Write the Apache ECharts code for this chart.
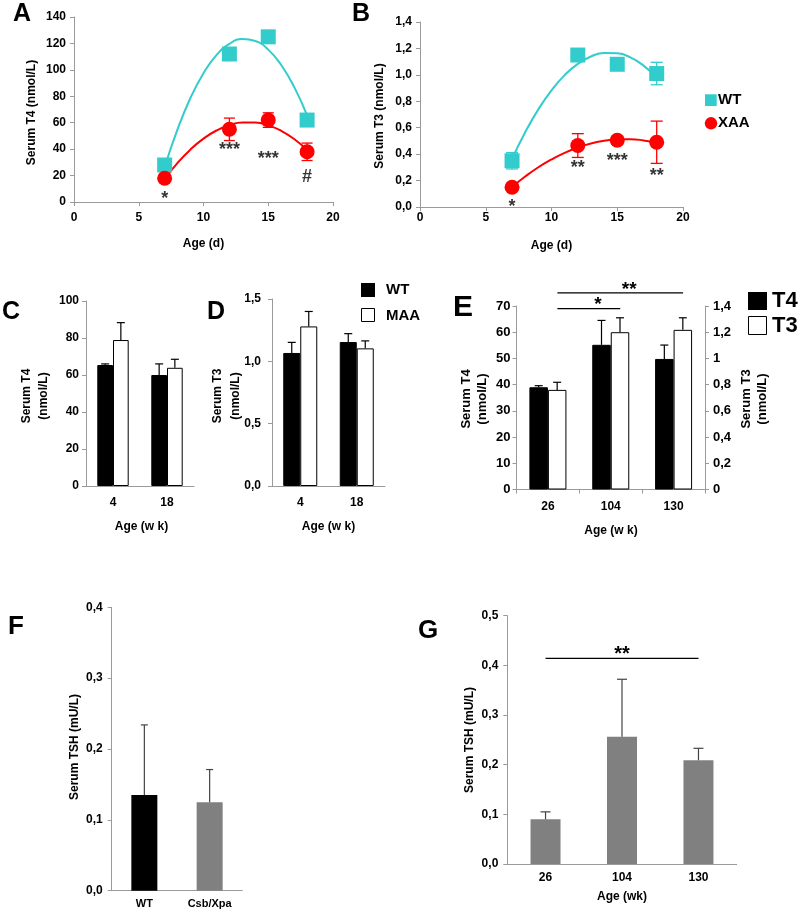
<!DOCTYPE html>
<html><head><meta charset="utf-8">
<script src="https://cdn.jsdelivr.net/npm/echarts@6/dist/echarts.min.js"></script>
<style>html,body{margin:0;padding:0;background:#fff}#c{width:800px;height:913px}</style>
</head><body><div id="c"></div>
<script>
// ---------- data ----------
// Panel A: serum T4 vs age (days)
const ageDays = [7, 12, 15, 18];
const t4WT = [28, 112, 125, 62];
const t4WTErr = [3, 4, 4, 3];
const t4XAA = [18, 55, 62, 38];
const t4XAAErr = [3, 8.5, 5.5, 6.6];
const trendAge = [7, 8, 9, 10, 11, 12, 13, 14, 15, 16, 17, 18];
const t4WTTrend = [26.4, 55.1, 78.9, 97.5, 111.2, 119.7, 123.3, 121.8, 115.3, 103.7, 87.1, 65.5];
const t4XAATrend = [17.4, 29.6, 39.8, 48.0, 54.1, 58.2, 60.2, 60.1, 58.0, 53.9, 47.7, 39.4];
const sigAAge = [7, 12, 15, 18];
const sigAY = [2.5, 39, 32.4, 18.9];
const sigAText = ['*', '***', '***', '#'];
const ticksA = ['0', '20', '40', '60', '80', '100', '120', '140'];
const ticksAgeD = ['0', '5', '10', '15', '20'];

// Panel B: serum T3 vs age (days)
const t3WT = [0.35, 1.15, 1.08, 1.01];
const t3WTErr = [0.062, 0.03, 0.03, 0.085];
const t3XAA = [0.15, 0.465, 0.505, 0.49];
const t3XAAErr = [0.02, 0.09, 0.03, 0.16];
const t3WTTrend = [0.364, 0.566, 0.739, 0.883, 0.998, 1.083, 1.139, 1.166, 1.163, 1.132, 1.070, 0.980];
const t3XAATrend = [0.152, 0.231, 0.301, 0.360, 0.410, 0.450, 0.481, 0.501, 0.512, 0.513, 0.504, 0.486];
const sigBAge = [7, 12, 15, 18];
const sigBY = [0.0, 0.297, 0.35, 0.237];
const sigBText = ['*', '**', '***', '**'];
const ticksB = ['0,0', '0,2', '0,4', '0,6', '0,8', '1,0', '1,2', '1,4'];

// Panel C / D: young animals (weeks)
const ageWeeksCD = ['4', '18'];
const t4CWT = [65.4, 60];
const t4CWTErr = [0.6, 6];
const t4CMAA = [78.9, 63.9];
const t4CMAAErr = [9.4, 4.6];
const ticksC = ['0', '20', '40', '60', '80', '100'];
const t3DWT = [1.067, 1.155];
const t3DWTErr = [0.085, 0.067];
const t3DMAA = [1.28, 1.104];
const t3DMAAErr = [0.12, 0.06];
const ticksD = ['0,0', '0,5', '1,0', '1,5'];

// Panel E: aging WT (weeks)
const ageWeeksE = ['26', '104', '130'];
const t4E = [39, 55.2, 49.8];
const t4EErr = [0.6, 9.3, 5.3];
const t3E = [0.76, 1.2, 1.218];
const t3EErr = [0.058, 0.11, 0.092];
const sigEFrom = [0, 0];
const sigETo = [1, 2];
const sigEY = [69, 75];
const sigEText = ['*', '**'];
const ticksELeft = ['0', '10', '20', '30', '40', '50', '60', '70'];
const ticksERight = ['0', '0,2', '0,4', '0,6', '0,8', '1', '1,2', '1,4'];

// Panel F: TSH by genotype
const genotypesF = ['WT', 'Csb/Xpa'];
const tshF = [0.135, 0.125];
const tshFErr = [0.099, 0.046];
const ticksF = ['0,0', '0,1', '0,2', '0,3', '0,4'];

// Panel G: TSH by age
const ageWeeksG = ['26', '104', '130'];
const tshG = [0.09, 0.256, 0.209];
const tshGErr = [0.015, 0.116, 0.024];
const sigGFrom = [0];
const sigGTo = [2];
const sigGY = [0.414];
const sigGText = ['**'];
const ticksG = ['0,0', '0,1', '0,2', '0,3', '0,4', '0,5'];

// ---------- styling ----------
const FONT = '"Liberation Sans", Arial, sans-serif';
const AX = '#9a9a9a';
const TEAL = '#33CCCC';
const RED = '#FF0000';
const GRAY = '#808080';

function lbl(size, margin, fmt) {
  return { color: '#000', fontWeight: 'bold', fontSize: size, fontFamily: FONT, margin: margin, formatter: fmt };
}
function valAxis(gi, min, max, interval, ticks, size, margin, extra) {
  return Object.assign({
    type: 'value', gridIndex: gi, min: min, max: max, interval: interval,
    axisLine: { show: true, lineStyle: { color: AX } },
    axisTick: { show: true, length: 4, lineStyle: { color: AX } },
    splitLine: { show: false },
    axisLabel: lbl(size, margin, function (v) { return ticks[Math.round((v - min) / interval)]; })
  }, extra || {});
}
function catAxis(gi, data, size, margin, showTick) {
  return {
    type: 'category', gridIndex: gi, data: data,
    axisLine: { show: true, lineStyle: { color: AX } },
    axisTick: { show: !!showTick, length: 4, lineStyle: { color: AX } },
    splitLine: { show: false },
    axisLabel: lbl(size, margin)
  };
}

function barErrRender(dx, color, cap) {
  return function (params, api) {
    const c = api.value(0), v = api.value(1), e = api.value(2);
    const p0 = api.coord([c, v]), p1 = api.coord([c, v + e]);
    const x = p0[0] + dx;
    return { type: 'group', children: [
      { type: 'line', shape: { x1: x, y1: p0[1], x2: x, y2: p1[1] }, style: { stroke: color, lineWidth: 1.2 } },
      { type: 'line', shape: { x1: x - cap / 2, y1: p1[1], x2: x + cap / 2, y2: p1[1] }, style: { stroke: color, lineWidth: 1.2 } }
    ] };
  };
}
function ptErrRender(color, cap) {
  return function (params, api) {
    const x = api.value(0), v = api.value(1), e = api.value(2);
    const p0 = api.coord([x, v - e]), p1 = api.coord([x, v + e]);
    const px = p0[0];
    return { type: 'group', children: [
      { type: 'line', shape: { x1: px, y1: p0[1], x2: px, y2: p1[1] }, style: { stroke: color, lineWidth: 1.3 } },
      { type: 'line', shape: { x1: px - cap / 2, y1: p0[1], x2: px + cap / 2, y2: p0[1] }, style: { stroke: color, lineWidth: 1.3 } },
      { type: 'line', shape: { x1: px - cap / 2, y1: p1[1], x2: px + cap / 2, y2: p1[1] }, style: { stroke: color, lineWidth: 1.3 } }
    ] };
  };
}
function sigRender(texts, dx, textDx, size) {
  return function (params, api) {
    const y = api.value(2);
    const p0 = api.coord([api.value(0), y]), p1 = api.coord([api.value(1), y]);
    const x0 = p0[0] + dx, x1 = p1[0] + dx;
    return { type: 'group', children: [
      { type: 'line', shape: { x1: x0, y1: p0[1], x2: x1, y2: p0[1] }, style: { stroke: '#000', lineWidth: 1.2 } },
      { type: 'text', x: (x0 + x1) / 2 + textDx, y: p0[1] - 3.5,
        style: { text: texts[params.dataIndex], fill: '#000', font: 'bold ' + size + 'px ' + FONT, align: 'center', verticalAlign: 'middle' } }
    ] };
  };
}

function pairs(xs, ys) { return xs.map(function (x, i) { return [x, ys[i]]; }); }
function triples(xs, ys, es) { return xs.map(function (x, i) { return [x, ys[i], es[i]]; }); }
function idxTriples(ys, es) { return ys.map(function (y, i) { return [i, y, es[i]]; }); }

function sigScatter(xi, yi, xs, ys, texts) {
  return {
    type: 'scatter', xAxisIndex: xi, yAxisIndex: yi, symbolSize: 1, z: 6,
    itemStyle: { color: 'rgba(0,0,0,0)' },
    label: { show: true, position: 'inside', formatter: '{b}', color: '#000', fontWeight: 'bold', fontSize: 18, fontFamily: FONT },
    data: xs.map(function (x, i) { return { name: texts[i], value: [x, ys[i]] }; })
  };
}

// ---------- graphics: titles, panel letters, legends ----------
function T(text, x, y, size, align, rot) {
  return { type: 'text', x: x, y: y, rotation: rot || 0, z: 20,
    style: { text: text, fill: '#000', font: 'bold ' + size + 'px ' + FONT, align: align || 'center', verticalAlign: 'middle' } };
}
const R90 = Math.PI / 2;
const graphics = [
  T('A', 13, 14, 25, 'left'), T('B', 352, 14, 25, 'left'),
  T('C', 2, 312, 25, 'left'), T('D', 207, 312, 25, 'left'),
  T('E', 453, 308, 30, 'left'), T('F', 8, 627, 26, 'left'), T('G', 418, 631, 26, 'left'),
  T('Serum T4 (nmol/L)', 31.7, 112.5, 12, 'center', R90),
  T('Age (d)', 203.5, 243.5, 12),
  T('Serum T3 (nmol/L)', 380, 116, 12, 'center', R90),
  T('Age (d)', 551.5, 246, 12),
  T('Serum T4', 27, 396, 12, 'center', R90), T('(nmol/L)', 44, 396, 12, 'center', R90),
  T('Age (w k)', 141.5, 527, 12),
  T('Serum T3', 218, 396, 12, 'center', R90), T('(nmol/L)', 235.5, 396, 12, 'center', R90),
  T('Age (w k)', 328.5, 527, 12),
  T('Serum T4', 466, 399, 13, 'center', R90), T('(nmol/L)', 482, 399, 13, 'center', R90),
  T('Serum T3', 746, 399, 13, 'center', R90), T('(nmol/L)', 762, 399, 13, 'center', R90),
  T('Age (w k)', 611, 530.7, 12),
  T('Serum TSH (mU/L)', 75, 747, 12, 'center', R90),
  T('Serum TSH (mU/L)', 470, 740, 12, 'center', R90),
  T('Age (wk)', 622, 896.7, 12),
  // legend B
  { type: 'rect', shape: { x: 705, y: 94.3, width: 11.7, height: 11.7 }, style: { fill: TEAL }, z: 20 },
  T('WT', 718, 100, 15, 'left'),
  { type: 'circle', shape: { cx: 711, cy: 123.3, r: 6.2 }, style: { fill: RED }, z: 20 },
  T('XAA', 718, 123.3, 15, 'left'),
  // legend C/D
  { type: 'rect', shape: { x: 361, y: 283, width: 14, height: 14 }, style: { fill: '#000' }, z: 20 },
  { type: 'rect', shape: { x: 361.5, y: 308.5, width: 13, height: 13 }, style: { fill: '#fff', stroke: '#000', lineWidth: 1 }, z: 20 },
  T('WT', 386, 290, 15, 'left'), T('MAA', 386, 315.5, 15, 'left'),
  // legend E
  { type: 'rect', shape: { x: 748, y: 292, width: 19, height: 18 }, style: { fill: '#000' }, z: 20 },
  { type: 'rect', shape: { x: 748.5, y: 316.5, width: 18, height: 18 }, style: { fill: '#fff', stroke: '#000', lineWidth: 1 }, z: 20 },
  T('T4', 772, 301, 22, 'left'), T('T3', 772, 325.5, 22, 'left')
];

const option = {
  animation: false,
  backgroundColor: '#fff',
  grid: [
    { left: 74, top: 17, width: 259, height: 185 },
    { left: 420, top: 22, width: 263, height: 185 },
    { left: 86, top: 301, width: 108, height: 185 },
    { left: 272, top: 299, width: 113, height: 187 },
    { left: 516.5, top: 306, width: 188.5, height: 183.5 },
    { left: 111.7, top: 607.3, width: 130.6, height: 283.4 },
    { left: 507.3, top: 615.7, width: 229.4, height: 248.3 }
  ],
  xAxis: [
    valAxis(0, 0, 20, 5, ticksAgeD, 12, 10),
    valAxis(1, 0, 20, 5, ticksAgeD, 12, 5),
    catAxis(2, ageWeeksCD, 12, 11, false),
    catAxis(3, ageWeeksCD, 12, 11, false),
    catAxis(4, ageWeeksE, 12, 11, true),
    catAxis(5, genotypesF, 11, 8, false),
    catAxis(6, ageWeeksG, 12, 8, false)
  ],
  yAxis: [
    valAxis(0, 0, 140, 20, ticksA, 12, 8),
    valAxis(1, 0, 1.4, 0.2, ticksB, 12, 8),
    valAxis(2, 0, 100, 20, ticksC, 12, 7),
    valAxis(3, 0, 1.5, 0.5, ticksD, 12, 11),
    valAxis(4, 0, 70, 10, ticksELeft, 13, 6),
    valAxis(4, 0, 1.4, 0.2, ticksERight, 13, 8, { position: 'right' }),
    valAxis(5, 0, 0.4, 0.1, ticksF, 12, 9),
    valAxis(6, 0, 0.5, 0.1, ticksG, 12, 9)
  ],
  graphic: graphics,
  series: [
    // ----- A -----
    { type: 'line', xAxisIndex: 0, yAxisIndex: 0, smooth: true, showSymbol: false, z: 2,
      lineStyle: { color: TEAL, width: 2 }, itemStyle: { color: TEAL }, data: pairs(trendAge, t4WTTrend) },
    { type: 'line', xAxisIndex: 0, yAxisIndex: 0, smooth: true, showSymbol: false, z: 2,
      lineStyle: { color: RED, width: 2 }, itemStyle: { color: RED }, data: pairs(trendAge, t4XAATrend) },
    { type: 'custom', xAxisIndex: 0, yAxisIndex: 0, z: 3, encode: { x: 0, y: 1 },
      renderItem: ptErrRender(TEAL, 11), data: triples(ageDays, t4WT, t4WTErr) },
    { type: 'custom', xAxisIndex: 0, yAxisIndex: 0, z: 3, encode: { x: 0, y: 1 },
      renderItem: ptErrRender(RED, 11), data: triples(ageDays, t4XAA, t4XAAErr) },
    { type: 'scatter', name: 'WT', xAxisIndex: 0, yAxisIndex: 0, symbol: 'rect', symbolSize: 15, z: 4,
      itemStyle: { color: TEAL, opacity: 1 }, data: pairs(ageDays, t4WT) },
    { type: 'scatter', name: 'XAA', xAxisIndex: 0, yAxisIndex: 0, symbol: 'circle', symbolSize: 15, z: 4,
      itemStyle: { color: RED, opacity: 1 }, data: pairs(ageDays, t4XAA) },
    sigScatter(0, 0, sigAAge, sigAY, sigAText),
    // ----- B -----
    { type: 'line', xAxisIndex: 1, yAxisIndex: 1, smooth: true, showSymbol: false, z: 2,
      lineStyle: { color: TEAL, width: 2 }, itemStyle: { color: TEAL }, data: pairs(trendAge, t3WTTrend) },
    { type: 'line', xAxisIndex: 1, yAxisIndex: 1, smooth: true, showSymbol: false, z: 2,
      lineStyle: { color: RED, width: 2 }, itemStyle: { color: RED }, data: pairs(trendAge, t3XAATrend) },
    { type: 'custom', xAxisIndex: 1, yAxisIndex: 1, z: 3, encode: { x: 0, y: 1 },
      renderItem: ptErrRender(TEAL, 12), data: triples(ageDays, t3WT, t3WTErr) },
    { type: 'custom', xAxisIndex: 1, yAxisIndex: 1, z: 3, encode: { x: 0, y: 1 },
      renderItem: ptErrRender(RED, 12), data: triples(ageDays, t3XAA, t3XAAErr) },
    { type: 'scatter', name: 'WT', xAxisIndex: 1, yAxisIndex: 1, symbol: 'rect', symbolSize: 15, z: 4,
      itemStyle: { color: TEAL, opacity: 1 }, data: pairs(ageDays, t3WT) },
    { type: 'scatter', name: 'XAA', xAxisIndex: 1, yAxisIndex: 1, symbol: 'circle', symbolSize: 15, z: 4,
      itemStyle: { color: RED, opacity: 1 }, data: pairs(ageDays, t3XAA) },
    sigScatter(1, 1, sigBAge, sigBY, sigBText),
    // ----- C -----
    { type: 'bar', name: 'WT', xAxisIndex: 2, yAxisIndex: 2, barWidth: 15.7, barGap: '0%',
      itemStyle: { color: '#000', borderColor: '#000', borderWidth: 1 }, data: t4CWT },
    { type: 'bar', name: 'MAA', xAxisIndex: 2, yAxisIndex: 2, barWidth: 15.7, barGap: '0%',
      itemStyle: { color: '#fff', borderColor: '#000', borderWidth: 1 }, data: t4CMAA },
    { type: 'custom', xAxisIndex: 2, yAxisIndex: 2, z: 3, encode: { x: 0, y: 1 },
      renderItem: barErrRender(-7.85, '#000', 8), data: idxTriples(t4CWT, t4CWTErr) },
    { type: 'custom', xAxisIndex: 2, yAxisIndex: 2, z: 3, encode: { x: 0, y: 1 },
      renderItem: barErrRender(7.85, '#000', 8), data: idxTriples(t4CMAA, t4CMAAErr) },
    // ----- D -----
    { type: 'bar', name: 'WT', xAxisIndex: 3, yAxisIndex: 3, barWidth: 17, barGap: '0%',
      itemStyle: { color: '#000', borderColor: '#000', borderWidth: 1 }, data: t3DWT },
    { type: 'bar', name: 'MAA', xAxisIndex: 3, yAxisIndex: 3, barWidth: 17, barGap: '0%',
      itemStyle: { color: '#fff', borderColor: '#000', borderWidth: 1 }, data: t3DMAA },
    { type: 'custom', xAxisIndex: 3, yAxisIndex: 3, z: 3, encode: { x: 0, y: 1 },
      renderItem: barErrRender(-8.5, '#000', 8), data: idxTriples(t3DWT, t3DWTErr) },
    { type: 'custom', xAxisIndex: 3, yAxisIndex: 3, z: 3, encode: { x: 0, y: 1 },
      renderItem: barErrRender(8.5, '#000', 8), data: idxTriples(t3DMAA, t3DMAAErr) },
    // ----- E -----
    { type: 'bar', name: 'T4', xAxisIndex: 4, yAxisIndex: 4, barWidth: 18.5, barGap: '0%',
      itemStyle: { color: '#000', borderColor: '#000', borderWidth: 1 }, data: t4E },
    { type: 'bar', name: 'T3', xAxisIndex: 4, yAxisIndex: 5, barWidth: 18.5, barGap: '0%',
      itemStyle: { color: '#fff', borderColor: '#000', borderWidth: 1 }, data: t3E },
    { type: 'custom', xAxisIndex: 4, yAxisIndex: 4, z: 3, encode: { x: 0, y: 1 },
      renderItem: barErrRender(-9.25, '#000', 8), data: idxTriples(t4E, t4EErr) },
    { type: 'custom', xAxisIndex: 4, yAxisIndex: 5, z: 3, encode: { x: 0, y: 1 },
      renderItem: barErrRender(9.25, '#000', 8), data: idxTriples(t3E, t3EErr) },
    { type: 'custom', xAxisIndex: 4, yAxisIndex: 4, z: 5, clip: false, encode: { x: [0, 1], y: 2 },
      renderItem: sigRender(sigEText, 9.5, 9, 19),
      data: sigEFrom.map(function (f, i) { return [f, sigETo[i], sigEY[i]]; }) },
    // ----- F -----
    { type: 'bar', xAxisIndex: 5, yAxisIndex: 6, barWidth: 26,
      data: tshF.map(function (v, i) { return { value: v, itemStyle: { color: i === 0 ? '#000' : GRAY } }; }) },
    { type: 'custom', xAxisIndex: 5, yAxisIndex: 6, z: 3, encode: { x: 0, y: 1 },
      renderItem: barErrRender(0, '#444', 7), data: idxTriples(tshF, tshFErr) },
    // ----- G -----
    { type: 'bar', xAxisIndex: 6, yAxisIndex: 7, barWidth: 30,
      itemStyle: { color: GRAY }, data: tshG },
    { type: 'custom', xAxisIndex: 6, yAxisIndex: 7, z: 3, encode: { x: 0, y: 1 },
      renderItem: barErrRender(0, '#444', 10), data: idxTriples(tshG, tshGErr) },
    { type: 'custom', xAxisIndex: 6, yAxisIndex: 7, z: 5, clip: false, encode: { x: [0, 1], y: 2 },
      renderItem: sigRender(sigGText, 0, 0, 20),
      data: sigGFrom.map(function (f, i) { return [f, sigGTo[i], sigGY[i]]; }) }
  ]
};

const chart = echarts.init(document.getElementById('c'), null, { renderer: 'canvas' });
chart.setOption(option);
</script>
</body></html>
